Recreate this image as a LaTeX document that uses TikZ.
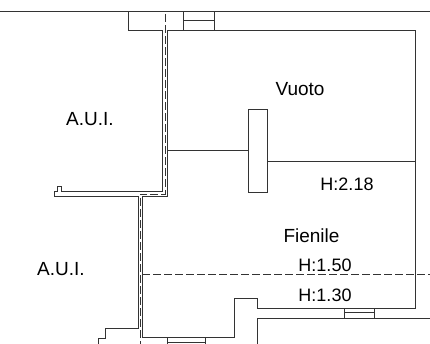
\documentclass[tikz,border=0pt]{standalone}
\usepackage{fontspec}
\setmainfont{Liberation Sans}
\tikzset{
    wall/.style={draw=black!80,line width=1pt},
    axisline/.style={draw=black!80,line width=0.9pt,dash pattern=on 8pt off 3pt},
    roomlabel/.style={font=\fontsize{19}{21}\selectfont,inner sep=0pt},
    heightlabel/.style={font=\fontsize{18}{20}\selectfont,inner sep=0pt}
}
\begin{document}
\begin{tikzpicture}[x=1pt,y=-1pt]
        \useasboundingbox (0,0) rectangle (430,344);
        \draw[wall] (0,12) -- (430,12);
        \draw[wall] (128,12) -- (128,31) -- (162,31) -- (162,192) -- (61,192) -- (61,187) -- (57,187) -- (57,192) -- (54,192) -- (54,197) -- (138,197) -- (138,328) -- (105,328) -- (105,338) -- (98,338) -- (98,344);
        \draw[wall] (167,31) -- (167,197) -- (142,197) -- (142,337) -- (234,337) -- (234,298) -- (257,298) -- (257,308) -- (415,308) -- (415,31) -- (167,31);
        \draw[wall] (257,344) -- (257,318) -- (430,318);
        \draw[axisline] (165,14) -- (165,194) -- (140,194) -- (140,344);
        \draw[axisline] (142,274) -- (430,274);
        \foreach \xa/\xb/\ya/\yb/\ym in {183/214/12/31/21,344/374/308/318/312,167/205/337/344/342}
        {
        \draw[wall] (\xa,\ya) -- (\xa,\yb);
        \draw[wall] (\xb,\ya) -- (\xb,\yb);
        \draw[wall] (\xa,\ym) -- (\xb,\ym);
        }
        \draw[wall] (248,110) rectangle (267,193);
        \draw[wall] (167,151) -- (248,151);
        \draw[wall] (267,162) -- (415,162);
        \node[roomlabel] (aui1) at (90,119) {A.U.I.};
        \node[roomlabel] (aui2) at (61,269.5) {A.U.I.};
        \node[roomlabel] (vuoto) at (300,89) {Vuoto};
        \node[heightlabel] (h218) at (347,184) {H:2.18};
        \node[roomlabel] (fienile) at (311.5,236) {Fienile};
        \node[heightlabel] (h150) at (325,265.5) {H:1.50};
        \node[heightlabel] (h130) at (325,295.5) {H:1.30};
\end{tikzpicture}
\end{document}
